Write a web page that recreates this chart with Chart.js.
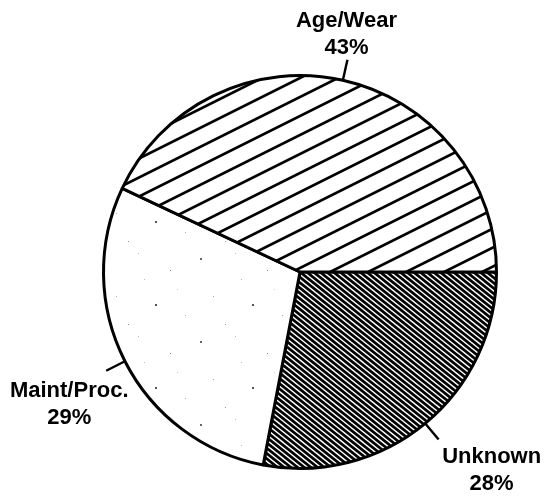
<!DOCTYPE html>
<html>
<head>
<meta charset="utf-8">
<script src="https://cdn.jsdelivr.net/npm/chart.js@4"></script>
<style>
  html, body { margin: 0; padding: 0; background: #fff; }
  #wrap { position: relative; width: 547px; height: 497px; }
</style>
</head>
<body>
<div id="wrap"><canvas id="c" width="547" height="497"></canvas></div>
<script>
// Failure causes, listed clockwise starting at 3 o'clock
const categories = ['Unknown', 'Maint/Proc.', 'Age/Wear'];
const shares = [28, 29, 43];

// Wide "/" hatching
function wideHatch() {
  const w = 38, h = 19;
  const cv = document.createElement('canvas');
  cv.width = w; cv.height = h;
  const g = cv.getContext('2d');
  g.fillStyle = '#fff';
  g.fillRect(0, 0, w, h);
  g.strokeStyle = '#000';
  g.lineWidth = 2.7;
  for (let k = -2; k <= 2; k++) {
    g.beginPath();
    g.moveTo(-w, 2 * h + k * h);
    g.lineTo(2 * w, -h + k * h);
    g.stroke();
  }
  return g.createPattern(cv, 'repeat');
}

// Dense "\" hatching
function denseHatch() {
  const w = 20, h = 16, step = 20 / 3;
  const cv = document.createElement('canvas');
  cv.width = w; cv.height = h;
  const g = cv.getContext('2d');
  g.fillStyle = '#fff';
  g.fillRect(0, 0, w, h);
  g.strokeStyle = '#000';
  g.lineWidth = 2.7;
  for (let c = -3 * w; c <= 3 * w; c += step) {
    g.beginPath();
    g.moveTo(c - w, -0.8 * w);
    g.lineTo(c + 2 * w, 0.8 * 2 * w);
    g.stroke();
  }
  return g.createPattern(cv, 'repeat');
}

// Sparse stipple
function stipple() {
  const w = 97, h = 83;
  const cv = document.createElement('canvas');
  cv.width = w; cv.height = h;
  const g = cv.getContext('2d');
  g.fillStyle = '#fff';
  g.fillRect(0, 0, w, h);
  const dots = [[6, 9, '#666', 2], [41, 4, '#bbb', 1], [73, 21, '#888', 1], [19, 47, '#aaa', 1],
                [58, 55, '#555', 2], [88, 66, '#aaa', 1], [31, 75, '#999', 1], [80, 40, '#ccc', 1],
                [47, 30, '#bbb', 1]];
  dots.forEach(([x, y, col, s]) => { g.fillStyle = col; g.fillRect(x, y, s, s); });
  return g.createPattern(cv, 'repeat');
}

const fills = [denseHatch(), stipple(), wideHatch()];

// Callout labels: a short radial tick at each slice's mid-angle, text beyond it
const calloutPlugin = {
  id: 'calloutLabels',
  afterDatasetsDraw(chart, args, opts) {
    const ctx = chart.ctx;
    const meta = chart.getDatasetMeta(0);
    const values = chart.data.datasets[0].data;
    const total = values.reduce((a, b) => a + b, 0);
    ctx.save();
    ctx.strokeStyle = '#000';
    ctx.lineWidth = 2.4;
    ctx.fillStyle = '#000';
    ctx.font = 'bold 22px "Liberation Sans", Arial, sans-serif';
    ctx.textAlign = 'center';
    ctx.textBaseline = 'alphabetic';
    meta.data.forEach((arc, i) => {
      const p = arc.getProps(['x', 'y', 'startAngle', 'endAngle', 'outerRadius'], true);
      const mid = (p.startAngle + p.endAngle) / 2;
      const r0 = p.outerRadius, r1 = p.outerRadius + opts.tick;
      const x0 = p.x + Math.cos(mid) * r0, y0 = p.y + Math.sin(mid) * r0;
      const x1 = p.x + Math.cos(mid) * r1, y1 = p.y + Math.sin(mid) * r1;
      ctx.beginPath();
      ctx.moveTo(x0, y0);
      ctx.lineTo(x1, y1);
      ctx.stroke();
      const off = opts.offsets[i];
      const pct = Math.round(values[i] / total * 100) + '%';
      ctx.fillText(chart.data.labels[i], x1 + off[0], y1 + off[1]);
      ctx.fillText(pct, x1 + off[0], y1 + off[1] + opts.lineHeight);
    });
    ctx.restore();
  }
};

new Chart(document.getElementById('c'), {
  type: 'pie',
  data: {
    labels: categories,
    datasets: [{
      data: shares,
      backgroundColor: fills,
      borderColor: '#000',
      borderWidth: 3
    }]
  },
  options: {
    responsive: false,
    devicePixelRatio: 1,
    animation: false,
    rotation: 90,
    layout: { padding: { left: 102, right: 49, top: 74, bottom: 27 } },
    plugins: {
      legend: { display: false },
      tooltip: { enabled: false },
      calloutLabels: {
        tick: 21,
        lineHeight: 27,
        offsets: [[53, 23], [-37, 26], [-1, -33]]
      }
    }
  },
  plugins: [calloutPlugin]
});
</script>
</body>
</html>
